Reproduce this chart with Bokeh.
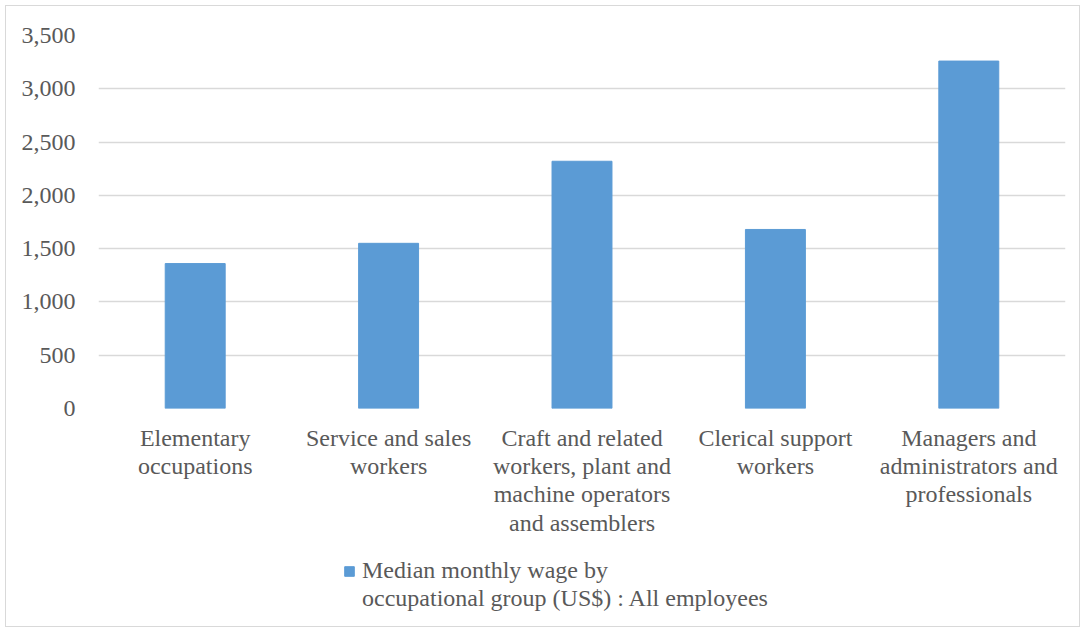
from bokeh.plotting import figure
from bokeh.layouts import column
from bokeh.models import FactorRange, Range1d, Legend, LegendItem, NumeralTickFormatter, FixedTicker
from bokeh.embed import file_html
from bokeh.resources import INLINE

categories = [
    "Elementary\noccupations",
    "Service and sales\nworkers",
    "Craft and related\nworkers, plant and\nmachine operators\nand assemblers",
    "Clerical support\nworkers",
    "Managers and\nadministrators and\nprofessionals",
]
wages = [1360, 1550, 2320, 1680, 3260]
y_ticks = [0, 500, 1000, 1500, 2000, 2500, 3000, 3500]
series_name_lines = ["Median monthly wage by", "occupational group (US$) : All employees"]

FONT = "Liberation Serif"
TXT = "#595959"
GRID = "#d9d9d9"
BAR = "#5b9bd5"
W = 1073

p = figure(
    width=W, height=540,
    x_range=FactorRange(*categories, range_padding=0),
    y_range=Range1d(0, 3500),
    output_backend="svg", toolbar_location=None,
    min_border_left=92, min_border_right=14, min_border_top=29, min_border_bottom=138,
)
p.outline_line_color = None

p.vbar(x=categories, top=wages, width=0.31, fill_color=BAR, line_color=BAR)

p.xgrid.grid_line_color = None
p.ygrid.grid_line_color = GRID
p.ygrid.grid_line_width = 1.5
p.ygrid.ticker = FixedTicker(ticks=y_ticks)

p.yaxis.ticker = FixedTicker(ticks=y_ticks)
p.yaxis.formatter = NumeralTickFormatter(format="0,0")
for ax in (p.xaxis[0], p.yaxis[0]):
    ax.axis_line_color = None
    ax.major_tick_line_color = None
    ax.minor_tick_line_color = None
    ax.major_label_text_font = FONT
    ax.major_label_text_font_size = "24px"
    ax.major_label_text_color = TXT
p.yaxis.major_label_standoff = 17
p.xaxis.major_label_standoff = 10
p.xaxis.major_label_text_line_height = 1.09

# legend strip below the chart (swatch comes from a bar kept outside the view)
p2 = figure(
    width=W, height=80,
    x_range=Range1d(0, 1), y_range=Range1d(0, 1),
    x_axis_type=None, y_axis_type=None,
    output_backend="svg", toolbar_location=None,
    min_border=0,
)
p2.outline_line_color = None
p2.xgrid.visible = False
p2.ygrid.visible = False
legend_bar = p2.vbar(x=[-5], bottom=[-3], top=[-2], width=0.31, fill_color=BAR, line_color=BAR)
legend_blank = p2.vbar(x=[-5], bottom=[-3], top=[-2], width=0.31, fill_alpha=0, line_alpha=0)

legend = Legend(
    items=[LegendItem(label=series_name_lines[0], renderers=[legend_bar]),
           LegendItem(label=series_name_lines[1], renderers=[legend_blank])],
    location=(245, 14),
    label_text_font=FONT, label_text_font_size="24px", label_text_color=TXT,
    glyph_width=12, glyph_height=12, label_standoff=7, spacing=1,
    padding=0, margin=0, border_line_color=None, background_fill_alpha=0,
)
p2.add_layout(legend, "center")

page = column(p, p2, spacing=0,
              styles={"border": "1px solid #d9d9d9", "margin-left": "5px", "margin-top": "5px"})

open("out.html", "w").write(file_html(page, INLINE))
